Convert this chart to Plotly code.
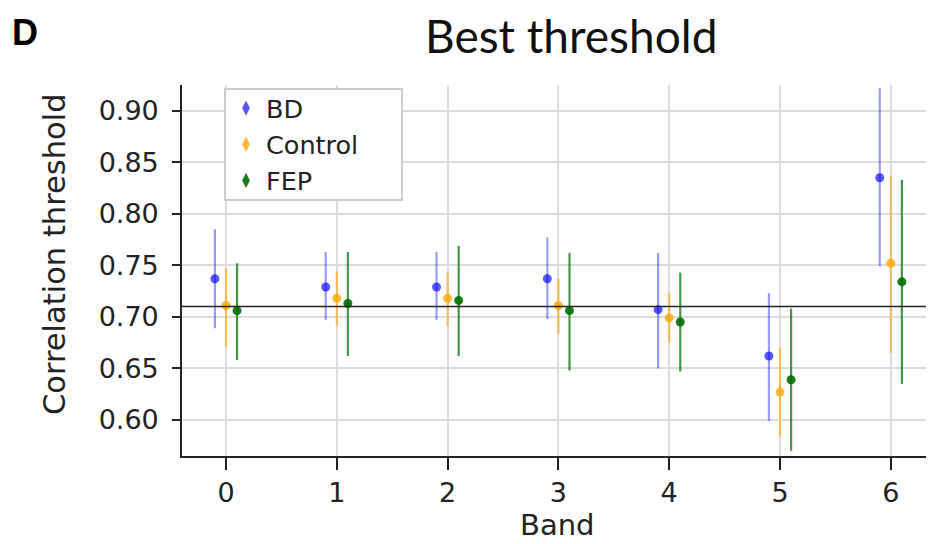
import plotly.graph_objects as go

bands = [0, 1, 2, 3, 4, 5, 6]
groups = ["BD", "Control", "FEP"]
offsets = [-0.1, 0.0, 0.1]

bd_mean = [0.737, 0.729, 0.729, 0.737, 0.707, 0.662, 0.835]
bd_upper = [0.785, 0.763, 0.763, 0.777, 0.762, 0.723, 0.922]
bd_lower = [0.689, 0.697, 0.697, 0.698, 0.650, 0.599, 0.749]

ctrl_mean = [0.711, 0.718, 0.718, 0.711, 0.699, 0.627, 0.752]
ctrl_upper = [0.747, 0.744, 0.743, 0.737, 0.723, 0.670, 0.837]
ctrl_lower = [0.671, 0.692, 0.691, 0.684, 0.675, 0.584, 0.665]

fep_mean = [0.706, 0.713, 0.716, 0.706, 0.695, 0.639, 0.734]
fep_upper = [0.752, 0.763, 0.769, 0.762, 0.743, 0.708, 0.833]
fep_lower = [0.658, 0.662, 0.662, 0.648, 0.647, 0.570, 0.635]

reference_line = 0.71

y_ticks = [0.60, 0.65, 0.70, 0.75, 0.80, 0.85, 0.90]

series = [
    (bd_mean, bd_upper, bd_lower),
    (ctrl_mean, ctrl_upper, ctrl_lower),
    (fep_mean, fep_upper, fep_lower),
]
marker_colors = ["rgba(0,0,255,0.65)", "rgba(255,165,0,0.78)", "rgba(0,110,0,0.9)"]
err_colors = ["rgba(0,0,255,0.4)", "rgba(255,165,0,0.6)", "rgba(0,110,0,0.72)"]

# page body adds an 8px offset
W, H = 934, 536
L, T, B = 174, 77, 88
PW, PH = W - L, H - T - B


def px(xr):
    return (xr - 8 - L) / PW


def py(yr):
    return (H - B - (yr - 8)) / PH


fig = go.Figure()
for name, off, (m, up, lo), mc, ec in zip(groups, offsets, series, marker_colors, err_colors):
    fig.add_trace(go.Scatter(
        x=[b + off for b in bands], y=m, mode="markers", name=name, showlegend=False,
        marker=dict(size=9, color=mc),
        error_y=dict(type="data", symmetric=False,
                     array=[u - v for u, v in zip(up, m)],
                     arrayminus=[v - l for v, l in zip(m, lo)],
                     color=ec, thickness=2.2, width=0),
    ))
for name, mc in zip(groups, marker_colors):
    fig.add_trace(go.Scatter(
        x=[None], y=[None], mode="markers", name=name,
        marker=dict(size=11, color=mc, symbol="diamond-tall"),
    ))

fig.add_shape(type="line", xref="paper", x0=0, x1=1, yref="y", y0=reference_line, y1=reference_line,
              line=dict(color="#222222", width=1.6), layer="above")
# legend frame
fig.add_shape(type="rect", xref="paper", yref="paper", x0=px(225), x1=px(402), y0=py(200), y1=py(89),
              fillcolor="white", line=dict(color="#cccccc", width=2), layer="above")

fig.update_layout(
    width=W, height=H,
    margin=dict(l=L, r=0, t=T, b=B),
    plot_bgcolor="white", paper_bgcolor="white",
    font=dict(family="DejaVu Sans", color="#222222"),
    showlegend=True,
    legend=dict(x=px(226), y=py(85), xanchor="left", yanchor="top",
                bgcolor="rgba(0,0,0,0)", borderwidth=0,
                font=dict(size=25.5, family="DejaVu Sans", color="#222222"),
                tracegroupgap=0, itemwidth=30),
    xaxis=dict(range=[-0.397, 6.462], tickvals=bands, ticktext=[str(b) for b in bands],
               showgrid=True, gridcolor="#dcdcdc", gridwidth=1.5, zeroline=False,
               showline=True, linecolor="#222222", linewidth=1.6,
               ticks="outside", ticklen=12, tickwidth=1.6, tickcolor="#222222",
               tickfont=dict(size=27, family="DejaVu Sans", color="#222222")),
    yaxis=dict(range=[0.565, 0.925], tickvals=y_ticks, ticktext=[f"{v:.2f}" for v in y_ticks],
               showgrid=True, gridcolor="#dcdcdc", gridwidth=1.5, zeroline=False,
               showline=True, linecolor="#222222", linewidth=1.6,
               ticks="outside", ticklen=8, tickwidth=1.6, tickcolor="#222222",
               ticklabelstandoff=8,
               tickfont=dict(size=27, family="DejaVu Sans", color="#222222")),
    annotations=[
        dict(text="Best threshold", xref="paper", yref="paper", x=px(571), y=py(35),
             xanchor="center", yanchor="middle", showarrow=False,
             font=dict(size=46, family="Lato", color="#111111")),
        dict(text="<b>D</b>", xref="paper", yref="paper", x=px(10), y=py(32),
             xanchor="left", yanchor="middle", showarrow=False,
             font=dict(size=36, family="Liberation Sans", color="#000000")),
        dict(text="Correlation threshold", xref="paper", yref="paper", x=px(55), y=py(254),
             xanchor="center", yanchor="middle", showarrow=False, textangle=-90,
             font=dict(size=30.5, family="DejaVu Sans", color="#222222")),
        dict(text="Band", xref="paper", yref="paper", x=px(557), y=py(525),
             xanchor="center", yanchor="middle", showarrow=False,
             font=dict(size=29, family="DejaVu Sans", color="#222222")),
    ],
)

fig.write_html("out.html")
